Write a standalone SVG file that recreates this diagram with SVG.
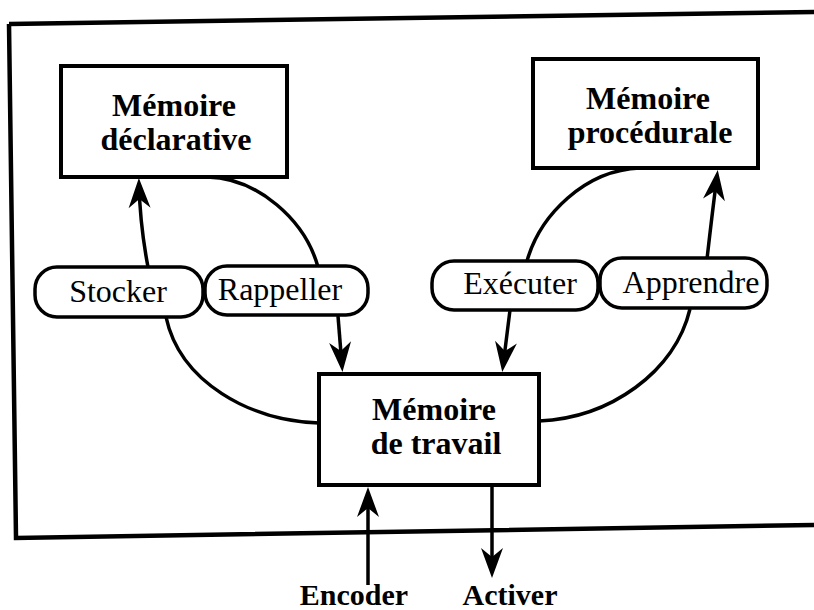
<svg xmlns="http://www.w3.org/2000/svg" width="814" height="610" viewBox="0 0 814 610">
  <style>
    .frame { fill: none; stroke: #000; stroke-width: 4.5; stroke-linejoin: miter; }
    .box { fill: #fff; stroke: #000; stroke-width: 4; }
    .pill { fill: #fff; stroke: #000; stroke-width: 3.5; }
    .conn { fill: none; stroke: #000; stroke-width: 3.5; }
    .bt { font-family: "Liberation Serif", "Times New Roman", serif; font-weight: bold; font-size: 32px; text-anchor: middle; fill: #000; }
    .pt { font-family: "Liberation Serif", "Times New Roman", serif; font-size: 32px; text-anchor: middle; fill: #000; }
    .lt { font-family: "Liberation Serif", "Times New Roman", serif; font-weight: bold; font-size: 30px; text-anchor: middle; fill: #000; }
  </style>
  <defs>
    <marker id="arr" viewBox="-32 -13 34 26" refX="-6" refY="0" markerWidth="34" markerHeight="26" markerUnits="userSpaceOnUse" orient="auto">
      <path d="M0,0 L-30,-11 L-21,0 L-30,11 Z" fill="#000"/>
    </marker>
  </defs>
  <rect width="814" height="610" fill="#fff"/>

  <g id="frame">
    <path class="frame" d="M9,24 L814,12"/>
    <path class="frame" d="M9,24 L16,538 L814,525"/>
  </g>

  <g id="connectors">
    <path class="conn" d="M148,267 Q140,225 139,184" marker-end="url(#arr)"/>
    <path class="conn" d="M207,177 C258,178 305,220 318,267"/>
    <path class="conn" d="M338,316 L342,366" marker-end="url(#arr)"/>
    <path class="conn" d="M166,317 C180,382 250,421 319,423"/>
    <path class="conn" d="M640,168 C585,170 540,215 527,261"/>
    <path class="conn" d="M510,310 L503,366" marker-end="url(#arr)"/>
    <path class="conn" d="M707,259 Q712,215 717,176" marker-end="url(#arr)"/>
    <path class="conn" d="M690,309 C675,372 610,418 539,421"/>
    <path class="conn" d="M368,585 L368,493" marker-end="url(#arr)"/>
    <path class="conn" d="M492,486 L492,572" marker-end="url(#arr)"/>
  </g>

  <g id="memoire-declarative">
    <rect class="box" x="61" y="66" width="226" height="111"/>
    <text class="bt" x="174" y="116">Mémoire</text>
    <text class="bt" x="176" y="150">déclarative</text>
  </g>

  <g id="memoire-procedurale">
    <rect class="box" x="533" y="59" width="225" height="109"/>
    <text class="bt" x="648" y="109">Mémoire</text>
    <text class="bt" x="650" y="143">procédurale</text>
  </g>

  <g id="memoire-travail">
    <rect class="box" x="319" y="374" width="220" height="111"/>
    <text class="bt" x="434" y="420">Mémoire</text>
    <text class="bt" x="436" y="454">de travail</text>
  </g>

  <g id="stocker">
    <rect class="pill" x="35" y="267" width="168" height="50" rx="22" ry="22"/>
    <text class="pt" x="118" y="302">Stocker</text>
  </g>
  <g id="rappeller">
    <rect class="pill" x="205" y="266" width="163" height="49" rx="22" ry="22"/>
    <text class="pt" x="280" y="300">Rappeller</text>
  </g>
  <g id="executer">
    <rect class="pill" x="432" y="261" width="166" height="49" rx="22" ry="22"/>
    <text class="pt" x="520" y="294">Exécuter</text>
  </g>
  <g id="apprendre">
    <rect class="pill" x="600" y="258" width="167" height="50" rx="22" ry="22"/>
    <text class="pt" x="691" y="293">Apprendre</text>
  </g>

  <g id="encoder">
    <text class="lt" x="354" y="605">Encoder</text>
  </g>
  <g id="activer">
    <text class="lt" x="510" y="605">Activer</text>
  </g>
</svg>
